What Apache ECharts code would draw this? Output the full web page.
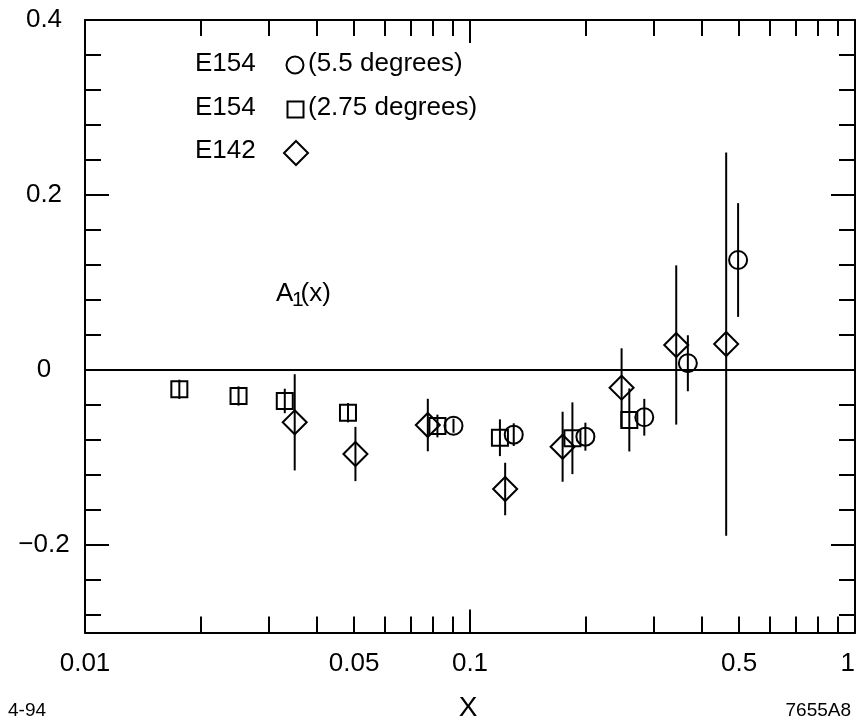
<!DOCTYPE html>
<html><head><meta charset="utf-8">
<script src="https://cdn.jsdelivr.net/npm/echarts@6/dist/echarts.min.js"></script>
<style>html,body{margin:0;padding:0;background:#fff}#c{width:858px;height:725px}</style>
</head><body><div id="c"></div>
<script>
// E154, 5.5 degrees (circles)
const e154a_x = [0.0906, 0.1299, 0.1994, 0.2836, 0.368, 0.497];
const e154a_y = [-0.0637, -0.0739, -0.0762, -0.054, 0.0077, 0.1257];
const e154a_err = [0.008, 0.013, 0.016, 0.021, 0.032, 0.065];
// E154, 2.75 degrees (squares)
const e154b_x = [0.01758, 0.02505, 0.03303, 0.0482, 0.0823, 0.1196, 0.1845, 0.2593];
const e154b_y = [-0.0221, -0.0297, -0.0354, -0.0488, -0.064, -0.0774, -0.078, -0.0571];
const e154b_err = [0.011, 0.011, 0.014, 0.011, 0.013, 0.021, 0.041, 0.036];
// E142 (diamonds)
const e142_x = [0.03505, 0.0504, 0.0777, 0.1234, 0.174, 0.2476, 0.3433, 0.4628];
const e142_y = [-0.0598, -0.096, -0.0629, -0.136, -0.0877, -0.0202, 0.0286, 0.0297];
const e142_err = [0.055, 0.031, 0.030, 0.030, 0.040, 0.045, 0.091, 0.219];

const xLabelValues = [0.01, 0.05, 0.1, 0.5, 1];
const xLabelTexts = ['0.01', '0.05', '0.1', '0.5', '1'];
const xMinorTicks = [0.02, 0.03, 0.04, 0.05, 0.06, 0.07, 0.08, 0.09, 0.2, 0.3, 0.4, 0.5, 0.6, 0.7, 0.8, 0.9];
const xMajorTicks = [0.1];
const yLabelValues = [0.4, 0.2, 0, -0.2];
const yLabelTexts = ['0.4', '0.2', '0', '\u22120.2'];
const yMinorTicks = [0.36, 0.32, 0.28, 0.24, 0.16, 0.12, 0.08, 0.04, -0.04, -0.08, -0.12, -0.16, -0.24, -0.28];
const legendNames = ['E154', 'E154', 'E142'];
const legendNotes = ['(5.5 degrees)', '(2.75 degrees)', ''];
const bottomLeftNote = '4-94';
const bottomRightNote = '7655A8';
const xTitle = 'X';

const FONT = '"Liberation Sans", Arial, Helvetica, sans-serif';
const BLACK = '#000';

function zip3(a, b, c) { return a.map((v, i) => [v, b[i], c[i]]); }
function zip2(a, b) { return a.map((v, i) => [v, b[i]]); }

function errRender(params, api) {
  const x = api.value(0), y = api.value(1), e = api.value(2);
  const p1 = api.coord([x, y + e]), p2 = api.coord([x, y - e]);
  return { type: 'line', shape: { x1: p1[0], y1: p1[1], x2: p2[0], y2: p2[1] },
           style: { stroke: BLACK, lineWidth: 2 } };
}

function xAxisDef(pos, ticks, len, withLine, withLabel) {
  return {
    type: 'log', logBase: 10, min: 0.01, max: 1, position: pos,
    axisLine: { show: withLine, onZero: false, lineStyle: { color: BLACK, width: 2 } },
    axisTick: { show: true, inside: true, length: len, customValues: ticks, lineStyle: { color: BLACK, width: 2 } },
    axisLabel: withLabel ? {
      show: true, customValues: xLabelValues, margin: 18, color: BLACK, fontSize: 26, fontFamily: FONT,
      alignMaxLabel: 'right',
      formatter: function (v) {
        let best = 0;
        xLabelValues.forEach((lv, i) => { if (Math.abs(Math.log10(lv) - Math.log10(v)) < Math.abs(Math.log10(xLabelValues[best]) - Math.log10(v))) best = i; });
        return xLabelTexts[best];
      }
    } : { show: false },
    splitLine: { show: false }, minorTick: { show: false }
  };
}
function yAxisDef(pos, ticks, len, withLine, withLabel) {
  return {
    type: 'value', min: -0.3, max: 0.4, position: pos,
    axisLine: { show: withLine, onZero: false, lineStyle: { color: BLACK, width: 2 } },
    axisTick: { show: true, inside: true, length: len, customValues: ticks, lineStyle: { color: BLACK, width: 2 } },
    axisLabel: withLabel ? {
      show: true, customValues: yLabelValues, margin: 41, align: 'center', color: BLACK, fontSize: 26, fontFamily: FONT,
      formatter: function (v) {
        let best = 0;
        yLabelValues.forEach((lv, i) => { if (Math.abs(lv - v) < Math.abs(yLabelValues[best] - v)) best = i; });
        return yLabelTexts[best];
      }
    } : { show: false },
    splitLine: { show: false }, minorTick: { show: false }
  };
}

const markerStyle = { color: 'rgba(0,0,0,0)', borderColor: BLACK, borderWidth: 2, opacity: 1 };
const T = 26;

const chart = echarts.init(document.getElementById('c'), null, { renderer: 'canvas' });
chart.setOption({
  animation: false,
  backgroundColor: '#fff',
  grid: { left: 85, right: 3, top: 20, bottom: 92.5, containLabel: false, outerBoundsMode: 'none' },
  xAxis: [
    xAxisDef('bottom', xMinorTicks, 16, true, true),
    xAxisDef('bottom', xMajorTicks, 23, false, false),
    xAxisDef('top', xMinorTicks, 16, true, false),
    xAxisDef('top', xMajorTicks, 23, false, false)
  ],
  yAxis: [
    yAxisDef('left', yLabelValues, 24, true, true),
    yAxisDef('left', yMinorTicks, 16, false, false),
    yAxisDef('right', yLabelValues, 24, true, false),
    yAxisDef('right', yMinorTicks, 16, false, false)
  ],
  series: [
    { type: 'custom', renderItem: errRender, data: zip3(e154b_x, e154b_y, e154b_err), encode: { x: 0, y: 1 }, silent: true,
      markLine: { silent: true, symbol: ['none', 'none'], label: { show: false },
        lineStyle: { color: BLACK, width: 2, type: 'solid' }, data: [{ yAxis: 0 }] } },
    { type: 'custom', renderItem: errRender, data: zip3(e154a_x, e154a_y, e154a_err), encode: { x: 0, y: 1 }, silent: true },
    { type: 'custom', renderItem: errRender, data: zip3(e142_x, e142_y, e142_err), encode: { x: 0, y: 1 }, silent: true },
    { type: 'scatter', symbol: 'rect', symbolSize: 16, data: zip2(e154b_x, e154b_y), itemStyle: markerStyle, silent: true },
    { type: 'scatter', symbol: 'circle', symbolSize: 18, data: zip2(e154a_x, e154a_y), itemStyle: markerStyle, silent: true },
    { type: 'scatter', symbol: 'diamond', symbolSize: 24, data: zip2(e142_x, e142_y), itemStyle: markerStyle, silent: true }
  ],
  graphic: [
    { type: 'text', x: 195, y: 64, style: { text: legendNames[0], font: T + 'px ' + FONT, fill: BLACK, textAlign: 'left', textVerticalAlign: 'middle' } },
    { type: 'circle', shape: { cx: 295, cy: 65, r: 8.5 }, style: { fill: 'none', stroke: BLACK, lineWidth: 2 } },
    { type: 'text', x: 308, y: 64, style: { text: legendNotes[0], font: T + 'px ' + FONT, fill: BLACK, textAlign: 'left', textVerticalAlign: 'middle' } },
    { type: 'text', x: 195, y: 108, style: { text: legendNames[1], font: T + 'px ' + FONT, fill: BLACK, textAlign: 'left', textVerticalAlign: 'middle' } },
    { type: 'rect', shape: { x: 287.5, y: 101.5, width: 16, height: 16 }, style: { fill: 'none', stroke: BLACK, lineWidth: 2 } },
    { type: 'text', x: 308, y: 108, style: { text: legendNotes[1], font: T + 'px ' + FONT, fill: BLACK, textAlign: 'left', textVerticalAlign: 'middle' } },
    { type: 'text', x: 195, y: 151, style: { text: legendNames[2], font: T + 'px ' + FONT, fill: BLACK, textAlign: 'left', textVerticalAlign: 'middle' } },
    { type: 'polygon', shape: { points: [[296, 141], [308, 153], [296, 165], [284, 153]] }, style: { fill: 'none', stroke: BLACK, lineWidth: 2 } },
    { type: 'text', x: 276, y: 294, style: { text: 'A', font: T + 'px ' + FONT, fill: BLACK, textAlign: 'left', textVerticalAlign: 'middle' } },
    { type: 'text', x: 292, y: 300, style: { text: '1', font: '21px ' + FONT, fill: BLACK, textAlign: 'left', textVerticalAlign: 'middle' } },
    { type: 'text', x: 300.5, y: 294, style: { text: '(x)', font: T + 'px ' + FONT, fill: BLACK, textAlign: 'left', textVerticalAlign: 'middle' } },
    { type: 'text', x: 468, y: 708, style: { text: xTitle, font: '28px ' + FONT, fill: BLACK, textAlign: 'center', textVerticalAlign: 'middle' } },
    { type: 'text', x: 8, y: 711, style: { text: bottomLeftNote, font: '19px ' + FONT, fill: BLACK, textAlign: 'left', textVerticalAlign: 'middle' } },
    { type: 'text', x: 851, y: 711, style: { text: bottomRightNote, font: '19px ' + FONT, fill: BLACK, textAlign: 'right', textVerticalAlign: 'middle' } }
  ]
});
</script>
</body></html>
